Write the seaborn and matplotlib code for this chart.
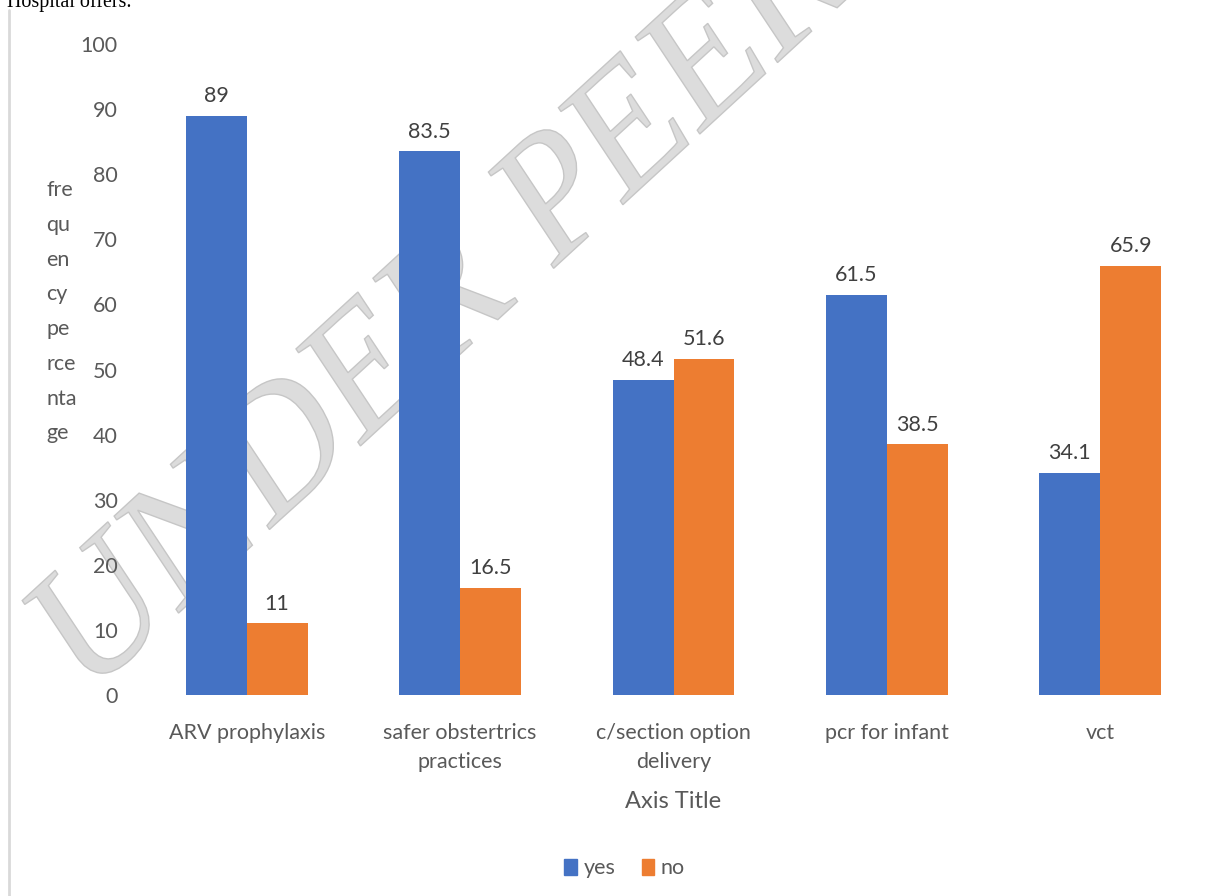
import matplotlib
matplotlib.use("Agg")
import matplotlib.pyplot as plt
from matplotlib.lines import Line2D
from matplotlib.patches import PathPatch
from matplotlib.textpath import TextPath
from matplotlib.font_manager import FontProperties
from matplotlib.transforms import Affine2D
import seaborn as sns
import pandas as pd

CATEGORIES = ["ARV prophylaxis", "safer obstertrics\npractices",
              "c/section option\ndelivery", "pcr for infant", "vct"]
YES = [89, 83.5, 48.4, 61.5, 34.1]
NO = [11, 16.5, 51.6, 38.5, 65.9]
SERIES = ["yes", "no"]
COLORS = ["#4472C4", "#ED7D31"]
YTICKS = list(range(0, 101, 10))

df = pd.DataFrame({
    "category": CATEGORIES * 2,
    "value": YES + NO,
    "answer": ["yes"] * len(YES) + ["no"] * len(NO),
})

sns.set_theme(style="white")
plt.rcParams["font.family"] = ["Lato", "DejaVu Sans"]
TXT = "#595959"

fig = plt.figure(figsize=(12.25, 8.96), dpi=100)
ax = fig.add_axes([0.1143, 0.2243, 0.871, 0.7266])
ax.patch.set_visible(False)

sns.barplot(data=df, x="category", y="value", hue="answer", hue_order=SERIES,
            palette=COLORS, width=0.57, saturation=1, ax=ax, legend=False,
            linewidth=0, zorder=2)

for cont in ax.containers:
    ax.bar_label(cont, labels=[f"{b.get_height():g}" for b in cont],
                 padding=7, fontsize=15.5, color="#404040")

ax.set_ylim(0, 100)
ax.set_yticks(YTICKS)
ax.set_xlim(-0.5, len(CATEGORIES) - 0.5)
for s in ax.spines.values():
    s.set_visible(False)
ax.tick_params(axis="y", length=0, pad=16, labelsize=15.5, labelcolor=TXT)
ax.tick_params(axis="x", length=0, pad=20, labelsize=15.5, labelcolor=TXT)
for lab in ax.get_xticklabels():
    lab.set_linespacing(1.55)
ax.set_ylabel("")
ax.set_xlabel("Axis Title", fontsize=17, color=TXT, labelpad=14)

# broken vertical axis title, as in the original
fig.text(0.038, 0.652, "fre\nqu\nen\ncy\npe\nrce\nnta\nge", ha="left",
         va="center", fontsize=15.5, color=TXT, linespacing=1.92)

# legend
handles = [plt.Rectangle((0, 0), 1, 1, color=c) for c in COLORS]
fig.legend(handles, SERIES, loc="center", bbox_to_anchor=(0.51, 0.031),
           ncol=2, frameon=False, fontsize=15.5, labelcolor=TXT,
           handlelength=0.6, handleheight=0.8, handletextpad=0.3,
           columnspacing=1.2)

# page decorations: cut caption and left rule
fig.text(0.006, 0.9922, "Hospital offers.", family="Liberation Serif",
         fontsize=14.4, color="black", va="baseline", ha="left")
fig.add_artist(Line2D([0.0075, 0.0075], [0.0, 0.989], color="#d9d9d9",
                      lw=2, transform=fig.transFigure))

# watermark behind the bars (rotated, slightly squeezed serif text)
tp = TextPath((0, 0), "UNDER PEER REVIEW", size=188,
              prop=FontProperties(family="Liberation Serif"))
wm_tr = Affine2D().rotate_deg(38).scale(0.85, 1).translate(84, 896 - 700)
wm = PathPatch(tp, transform=wm_tr, facecolor="#dcdcdc",
               edgecolor="#c6c6c6", lw=1, zorder=0.5)
ax.add_artist(wm)
wm.set_clip_on(False)

fig.savefig("out.png", dpi=100)
